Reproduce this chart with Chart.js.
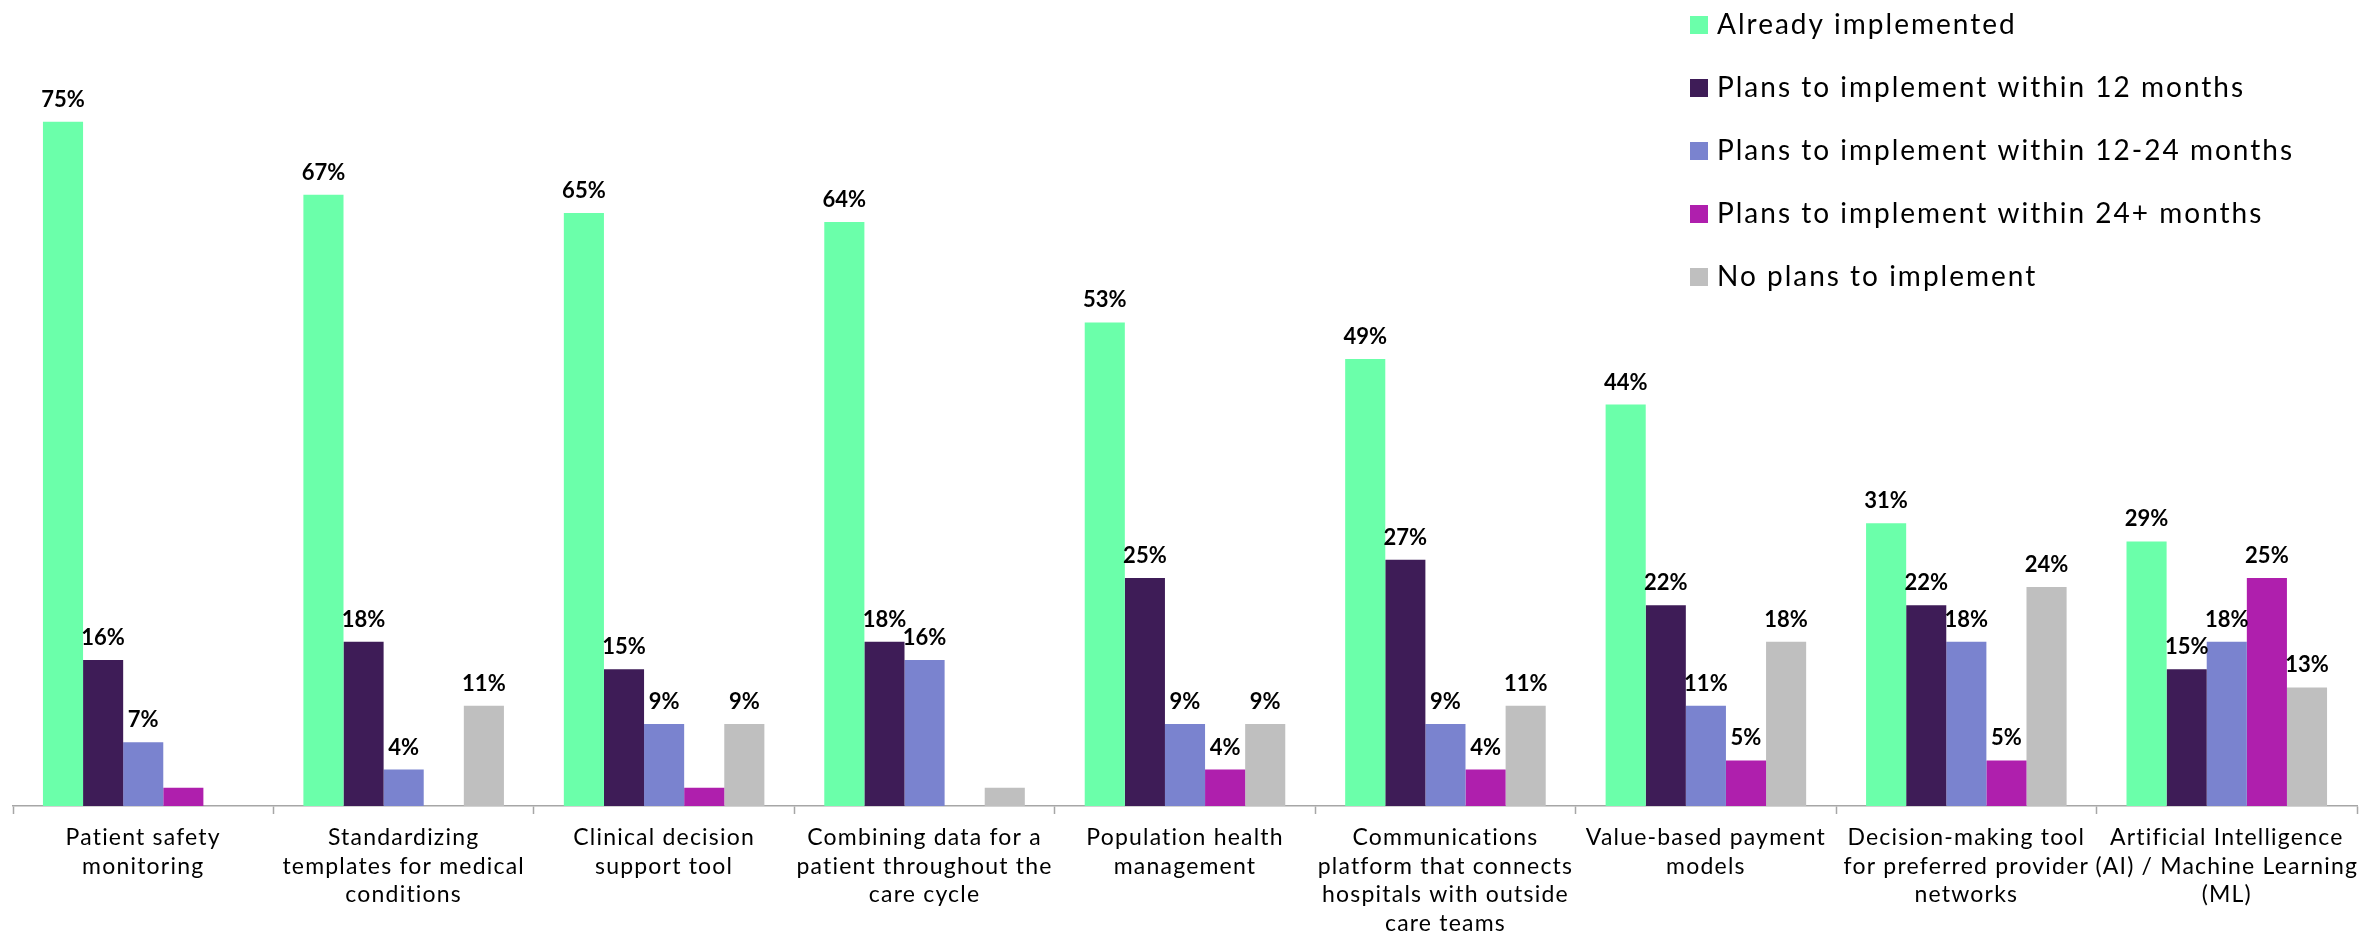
<!DOCTYPE html>
<html>
<head>
<meta charset="utf-8">
<script src="https://cdn.jsdelivr.net/npm/chart.js@4.4.0/dist/chart.umd.min.js"></script>
<style>
  body { margin: 0; background: #fff; }
  #wrap { width: 2361px; height: 936px; position: relative; }
</style>
</head>
<body>
<div id="wrap"><canvas id="chart"></canvas></div>
<script>
const categories = [
  ['Patient safety', 'monitoring'],
  ['Standardizing', 'templates for medical', 'conditions'],
  ['Clinical decision', 'support tool'],
  ['Combining data for a', 'patient throughout the', 'care cycle'],
  ['Population health', 'management'],
  ['Communications', 'platform that connects', 'hospitals with outside', 'care teams'],
  ['Value-based payment', 'models'],
  ['Decision-making tool', 'for preferred provider', 'networks'],
  ['Artificial Intelligence', '(AI) / Machine Learning', '(ML)']
];
const seriesNames = [
  'Already implemented',
  'Plans to implement within 12 months',
  'Plans to implement within 12-24 months',
  'Plans to implement within 24+ months',
  'No plans to implement'
];
const seriesColors = ['#6BFFAA', '#3E1C57', '#7A83CF', '#AF1FAD', '#BFBFBF'];

const alreadyImplemented = [75, 67, 65, 64, 53, 49, 44, 31, 29];
const within12 = [16, 18, 15, 18, 25, 27, 22, 22, 15];
const within12to24 = [7, 4, 9, 16, 9, 9, 11, 18, 18];
const within24plus = [2, null, 2, null, 4, 4, 5, 5, 25];
const noPlans = [null, 11, 9, 2, 9, 11, 18, 24, 13];

const seriesValues = [alreadyImplemented, within12, within12to24, within24plus, noPlans];

// wider letter spacing for the axis labels (the original font runs wide)
const spacing = {
  id: 'spacing',
  beforeDraw(chart) {
    chart.ctx.letterSpacing = '1.2px';
  }
};

// percent labels above bars (small 2% bars are left unlabelled like the original)
const valueLabels = {
  id: 'valueLabels',
  afterDatasetsDraw(chart) {
    const ctx = chart.ctx;
    ctx.save();
    ctx.letterSpacing = '0px';
    ctx.font = 'bold 22px Lato';
    ctx.fillStyle = '#000';
    ctx.textAlign = 'center';
    ctx.textBaseline = 'alphabetic';
    chart.data.datasets.forEach((ds, i) => {
      chart.getDatasetMeta(i).data.forEach((bar, j) => {
        const v = ds.data[j];
        if (v == null || v < 3) return;
        ctx.fillText(v + '%', bar.x, bar.y - 15);
      });
    });
    ctx.restore();
  }
};

// legend stacked in the top right corner
const sideLegend = {
  id: 'sideLegend',
  afterDraw(chart) {
    const ctx = chart.ctx;
    ctx.save();
    ctx.font = '28px Lato';
    ctx.letterSpacing = '2px';
    ctx.textBaseline = 'middle';
    ctx.textAlign = 'left';
    seriesNames.forEach((name, i) => {
      const y = 25 + i * 63;
      ctx.fillStyle = seriesColors[i];
      ctx.fillRect(1690, y - 9, 18, 18);
      ctx.fillStyle = '#000';
      ctx.fillText(name, 1717, y);
    });
    ctx.restore();
  }
};

new Chart(document.getElementById('chart'), {
  type: 'bar',
  data: {
    labels: categories,
    datasets: seriesNames.map((name, i) => ({
      label: name,
      data: seriesValues[i],
      backgroundColor: seriesColors[i],
      borderWidth: 0,
      categoryPercentage: 0.77,
      barPercentage: 1.0
    }))
  },
  options: {
    responsive: true,
    maintainAspectRatio: false,
    animation: false,
    layout: { padding: { top: 76, left: 13, right: 4, bottom: 0 } },
    plugins: {
      legend: { display: false },
      tooltip: { enabled: false }
    },
    scales: {
      x: {
        grid: { display: true, drawOnChartArea: false, drawTicks: true, tickLength: 8, tickWidth: 1.5, color: '#A6A6A6', offset: true },
        border: { display: true, color: '#A6A6A6', width: 1.5 },
        ticks: {
          color: '#000',
          font: { family: 'Lato', size: 23, lineHeight: 1.25 },
          maxRotation: 0,
          minRotation: 0,
          autoSkip: false,
          padding: 9
        },
        afterFit(scale) { scale.height = 130; }
      },
      y: { display: false, min: 0, max: 80 }
    }
  },
  plugins: [spacing, valueLabels, sideLegend]
});
</script>
</body>
</html>
